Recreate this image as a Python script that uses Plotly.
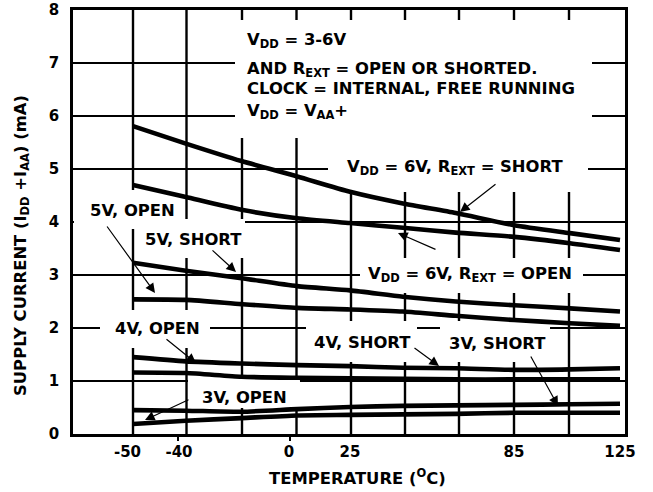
import plotly.graph_objects as go

# ---------------- data ----------------
temps = [-50, -31, -11, 9, 28, 47, 66, 87, 107, 125]

i_6v_short = [5.81, 5.48, 5.15, 4.86, 4.57, 4.35, 4.17, 3.94, 3.79, 3.66]
i_6v_open  = [4.70, 4.47, 4.23, 4.07, 3.98, 3.89, 3.80, 3.72, 3.60, 3.47]
i_5v_short = [3.23, 3.08, 2.94, 2.79, 2.71, 2.59, 2.50, 2.43, 2.37, 2.31]
i_5v_open  = [2.54, 2.53, 2.45, 2.38, 2.35, 2.31, 2.23, 2.15, 2.09, 2.04]
i_4v_short = [1.45, 1.37, 1.33, 1.30, 1.28, 1.25, 1.24, 1.21, 1.22, 1.24]
i_4v_open  = [1.16, 1.15, 1.08, 1.06, 1.05, 1.04, 1.03, 1.03, 1.03, 1.03]
i_3v_short = [0.45, 0.44, 0.42, 0.47, 0.51, 0.53, 0.54, 0.55, 0.56, 0.57]
i_3v_open  = [0.19, 0.25, 0.30, 0.35, 0.36, 0.37, 0.38, 0.40, 0.40, 0.40]

series = [i_6v_short, i_6v_open, i_5v_short, i_5v_open,
          i_4v_short, i_4v_open, i_3v_short, i_3v_open]

x_tick_labels = ["-50", "-40", "0", "25", "85", "125"]
y_tick_labels = ["0", "1", "2", "3", "4", "5", "6", "7", "8"]

# ---------------- layout helpers (pixel -> axis units) ----------------
W, H = 653, 492
PL, PR, PT, PB = 73, 625, 10, 434
PXD = 487 / 175.0          # pixels per degree on this chart


def xd(px):
    return -50 + (px - 133) / PXD


def yd(py):
    return (PB - py) / 53.0


FONT = "DejaVu Sans"
BLACK = "#000000"
TF = dict(family=FONT, size=15, color=BLACK, weight="bold")
AF = dict(family=FONT, size=16.4, color=BLACK, weight="bold")

grid_px = [133, 186.5, 242, 296.5, 351, 405, 459, 514, 569]
label_px = [127.5, 179, 289, 350, 514, 620]
tickmark_px = [178, 290]

# white boxes that interrupt the grid behind the labels: (x0, x1, y0, y1) in px
masks = [
    (235, 592, 20, 138), (328, 588, 138, 192), (74, 180, 190, 229),
    (138, 245, 219, 258), (360, 583, 258, 293), (100, 210, 310, 348),
    (306, 417, 321, 362), (440, 550, 321, 362), (188, 300, 378, 408),
]

xr = [xd(PL), xd(PR)]

fig = go.Figure()

# vertical grid lines of the chart frame, interrupted where the label boxes sit
for p in grid_px:
    cuts = sorted((c, d) for (a, b, c, d) in masks if a <= p <= b)
    segs = []
    start = PT
    for c, d in cuts:
        if c > start:
            segs.append((start, c))
        start = max(start, d)
    if start < PB:
        segs.append((start, PB))
    for (s0, s1) in segs:
        fig.add_trace(go.Scatter(x=[xd(p), xd(p)], y=[yd(s0), yd(s1)], mode="lines",
                                 line=dict(color=BLACK, width=2.4),
                                 hoverinfo="skip", showlegend=False))

for s in series:
    fig.add_trace(go.Scatter(x=temps, y=s, mode="lines",
                             line=dict(color=BLACK, width=4.6, shape="spline", smoothing=0.6),
                             hoverinfo="skip", showlegend=False))

fig.update_layout(
    width=W, height=H,
    margin=dict(l=PL, r=W - PR, t=PT, b=H - PB, pad=0, autoexpand=False),
    paper_bgcolor="white", plot_bgcolor="white",
    font=TF,
    xaxis=dict(range=xr, tickmode="array", tickvals=[xd(p) for p in label_px],
               ticktext=x_tick_labels, ticks="", showgrid=False, zeroline=False,
               automargin=False, ticklabelstandoff=2, tickfont=TF,
               showline=True, linecolor=BLACK, linewidth=2.5, mirror=True),
    yaxis=dict(range=[0, 8], tickmode="array", tickvals=list(range(9)),
               ticktext=y_tick_labels, ticks="", showgrid=True, gridcolor=BLACK,
               gridwidth=2, zeroline=False, showline=True, linecolor=BLACK,
               linewidth=2.5, mirror=True, ticklabelstandoff=8, automargin=False,
               tickfont=TF),
)

for (a, b, c, d) in masks:
    fig.add_shape(type="rect", xref="x", yref="y", x0=xd(a), x1=xd(b),
                  y0=yd(d), y1=yd(c), fillcolor="white", line=dict(width=0),
                  layer="between")

# the two short tick marks under the axis
for p in tickmark_px:
    fig.add_shape(type="line", xref="x", yref="paper", x0=xd(p), x1=xd(p),
                  y0=-0.001, y1=-7 / (PB - PT), line=dict(color=BLACK, width=2),
                  layer="above")


def label(text, px, py, anchor="left"):
    fig.add_annotation(text=text, x=xd(px), y=yd(py), xref="x", yref="y",
                       xanchor=anchor, yanchor="middle", showarrow=False, font=AF)


label("V<sub>DD</sub> = 3-6V", 245, 40)
label("AND R<sub>EXT</sub> = OPEN OR SHORTED.", 245, 69)
label("CLOCK = INTERNAL, FREE RUNNING", 245, 88)
label("V<sub>DD</sub> = V<sub>AA</sub>+", 245, 111)
label("V<sub>DD</sub> = 6V, R<sub>EXT</sub> = SHORT", 345, 167)
label("V<sub>DD</sub> = 6V, R<sub>EXT</sub> = OPEN", 366, 274)
label("5V, OPEN", 88, 210)
label("5V, SHORT", 143, 239)
label("4V, OPEN", 113, 328)
label("4V, SHORT", 312, 342)
label("3V, SHORT", 447, 343)
label("3V, OPEN", 200, 397)

arrows = [
    ((497, 183), (460, 212)), ((437, 250), (398, 233)),
    ((106, 225), (155, 293)), ((211, 249), (236, 272)),
    ((165, 338), (196, 363)), ((413, 347), (439, 366)),
    ((530, 355), (558, 406)), ((190, 399), (145, 420)),
]
for (tx, ty), (hx, hy) in arrows:
    fig.add_annotation(text="", x=xd(hx), y=yd(hy), ax=xd(tx), ay=yd(ty),
                       xref="x", yref="y", axref="x", ayref="y", showarrow=True,
                       arrowhead=2, arrowsize=1.6, arrowwidth=1.2, arrowcolor=BLACK,
                       standoff=0, startstandoff=0)

# axis titles
fig.add_annotation(text="SUPPLY CURRENT (I<sub>DD</sub> +I<sub>AA</sub>) (mA)",
                   x=(21 - PL) / (PR - PL), y=(PB - 246) / (PB - PT),
                   xref="paper", yref="paper", textangle=-90, showarrow=False,
                   xanchor="center", yanchor="middle", font=AF)
fig.add_annotation(text="TEMPERATURE (<sup>O</sup>C)",
                   x=(357 - PL) / (PR - PL), y=(PB - 477) / (PB - PT),
                   xref="paper", yref="paper", showarrow=False,
                   xanchor="center", yanchor="middle", font=AF)

fig.write_html("out.html", config={"displayModeBar": False},
               post_script="document.body.style.margin='0px';document.body.style.padding='0px';")
